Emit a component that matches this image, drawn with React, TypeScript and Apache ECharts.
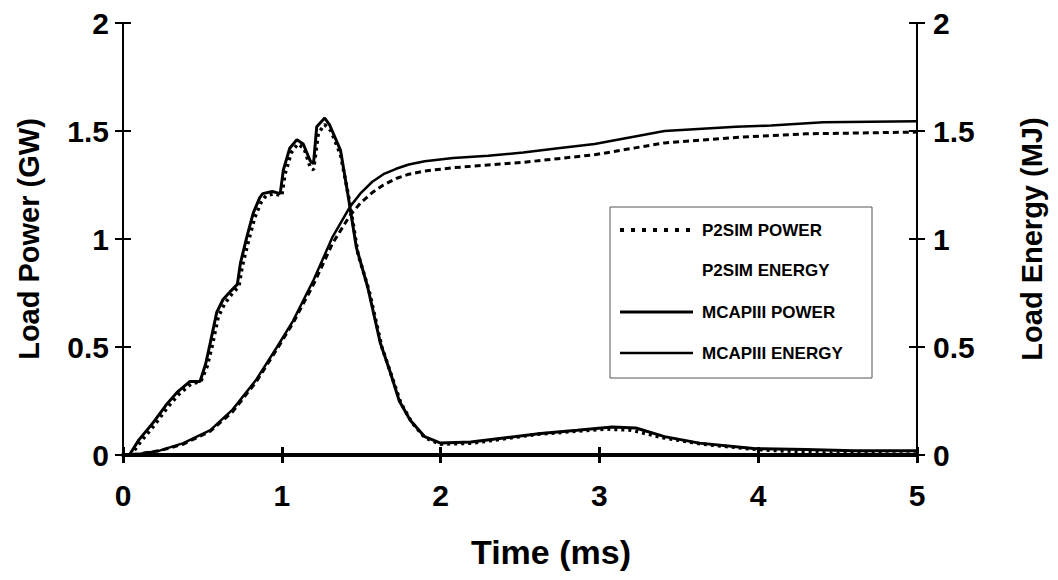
import React, { useEffect, useRef } from "react";
import * as echarts from "echarts";

// Time axis (ms)
const timeTicks = [0, 1, 2, 3, 4, 5];

// MCAPIII load power (GW)
const mcapPowerT = [0, 0.04, 0.1, 0.19, 0.27, 0.34, 0.42, 0.485, 0.52, 0.55, 0.59, 0.63, 0.68, 0.72, 0.74, 0.78, 0.82, 0.86, 0.88, 0.94, 0.99, 1.01, 1.05, 1.095, 1.135, 1.18, 1.2, 1.22, 1.27, 1.3, 1.37, 1.42, 1.47, 1.54, 1.62, 1.68, 1.74, 1.81, 1.9, 2.0, 2.19, 2.41, 2.63, 2.86, 3.08, 3.23, 3.41, 3.63, 3.97, 4.3, 4.6, 5.0];
const mcapPowerV = [0, 0, 0.07, 0.15, 0.23, 0.29, 0.34, 0.34, 0.42, 0.52, 0.66, 0.72, 0.76, 0.79, 0.89, 1.01, 1.12, 1.19, 1.21, 1.22, 1.21, 1.32, 1.42, 1.46, 1.44, 1.36, 1.35, 1.52, 1.56, 1.53, 1.41, 1.19, 0.96, 0.78, 0.52, 0.39, 0.25, 0.16, 0.085, 0.055, 0.06, 0.08, 0.1, 0.115, 0.13, 0.125, 0.085, 0.055, 0.03, 0.025, 0.02, 0.02];

// P2SIM load power (GW)
const p2simPowerT = [0, 0.05, 0.11, 0.2, 0.28, 0.35, 0.43, 0.49, 0.53, 0.56, 0.6, 0.64, 0.69, 0.73, 0.75, 0.79, 0.83, 0.87, 0.9, 0.95, 1.0, 1.02, 1.06, 1.1, 1.14, 1.18, 1.2, 1.23, 1.27, 1.31, 1.37, 1.43, 1.48, 1.55, 1.63, 1.69, 1.75, 1.82, 1.9, 2.0, 2.2, 2.4, 2.6, 2.85, 3.05, 3.2, 3.4, 3.65, 4.0, 4.4, 4.8, 5.0];
const p2simPowerV = [0, 0, 0.06, 0.14, 0.22, 0.28, 0.33, 0.34, 0.41, 0.5, 0.64, 0.7, 0.75, 0.78, 0.87, 0.99, 1.1, 1.17, 1.2, 1.21, 1.2, 1.3, 1.4, 1.44, 1.42, 1.33, 1.32, 1.49, 1.53, 1.5, 1.39, 1.16, 0.93, 0.76, 0.5, 0.37, 0.24, 0.15, 0.08, 0.05, 0.055, 0.075, 0.095, 0.11, 0.12, 0.115, 0.08, 0.05, 0.025, 0.01, 0.005, 0.005];

// MCAPIII load energy (MJ)
const mcapEnergyT = [0, 0.1, 0.23, 0.38, 0.55, 0.69, 0.84, 0.97, 1.07, 1.2, 1.32, 1.43, 1.5, 1.57, 1.64, 1.72, 1.8, 1.9, 2.08, 2.3, 2.52, 2.74, 2.97, 3.19, 3.41, 3.86, 4.08, 4.41, 5.0];
const mcapEnergyV = [0, 0.005, 0.02, 0.055, 0.115, 0.21, 0.35, 0.5, 0.62, 0.81, 1.01, 1.15, 1.215, 1.265, 1.3, 1.325, 1.345, 1.36, 1.375, 1.385, 1.4, 1.42, 1.44, 1.47, 1.5, 1.52, 1.525, 1.54, 1.545];

// P2SIM load energy (MJ)
const p2simEnergyT = [0, 0.1, 0.23, 0.38, 0.55, 0.69, 0.84, 0.97, 1.07, 1.2, 1.32, 1.43, 1.5, 1.57, 1.64, 1.72, 1.8, 1.9, 2.08, 2.52, 2.97, 3.41, 3.86, 4.3, 5.0];
const p2simEnergyV = [0, 0.005, 0.02, 0.05, 0.11, 0.2, 0.34, 0.49, 0.61, 0.79, 0.98, 1.11, 1.17, 1.215, 1.25, 1.28, 1.3, 1.315, 1.33, 1.355, 1.39, 1.445, 1.47, 1.487, 1.495];

const legendNames = ["P2SIM POWER", "P2SIM ENERGY", "MCAPIII POWER", "MCAPIII ENERGY"];

const zip = (t: number[], v: number[]) => t.map((x, i) => [x, v[i]]);

const FONT = "'Liberation Sans', Arial, Helvetica, sans-serif";

export default function App() {
  const ref = useRef<HTMLDivElement>(null);
  useEffect(() => {
    if (!ref.current) return;
    const chart = echarts.init(ref.current, null, { renderer: "svg" });
    const tickLabel = { color: "#000", fontSize: 30, fontWeight: "bold" as const, fontFamily: FONT };
    const nameStyle = { color: "#000", fontSize: 29, fontWeight: "bold" as const, fontFamily: FONT };
    const yBase = {
      type: "value" as const,
      min: 0,
      max: 2,
      interval: 0.5,
      splitLine: { show: false },
    };
    const lx = 620, lx2 = 693, tx = 702;
    const rows = [230, 270, 312, 353];
    chart.setOption({
      animation: false,
      backgroundColor: "#fff",
      grid: { left: 123, right: 141, top: 23, bottom: 125, outerBoundsMode: "none" },
      xAxis: [
        {
          type: "value",
          min: timeTicks[0],
          max: timeTicks[timeTicks.length - 1],
          interval: 1,
          splitLine: { show: false },
          axisLine: { show: true, onZero: false, lineStyle: { color: "#000", width: 4 } },
          axisTick: { show: true, inside: false, length: 8, lineStyle: { color: "#000", width: 3 } },
          axisLabel: { ...tickLabel, margin: 25 },
          name: "Time (ms)",
          nameLocation: "middle",
          nameGap: 80,
          nameTextStyle: { ...nameStyle, fontSize: 34, padding: [0, 0, 0, 62] },
        },
        {
          type: "value",
          min: 0,
          max: 5,
          interval: 1,
          position: "bottom",
          splitLine: { show: false },
          axisLine: { show: false, onZero: false },
          axisTick: { show: true, inside: true, length: 8, lineStyle: { color: "#000", width: 3 } },
          axisLabel: { show: false },
        },
      ],
      yAxis: [
        {
          ...yBase,
          position: "left",
          axisLine: { show: true, onZero: false, lineStyle: { color: "#000", width: 2 } },
          axisTick: { show: true, length: 8, lineStyle: { color: "#000", width: 2 } },
          axisLabel: { ...tickLabel, margin: 14 },
          name: "Load Power (GW)",
          nameLocation: "middle",
          nameRotate: 90,
          nameGap: 80,
          nameTextStyle: nameStyle,
        },
        {
          ...yBase,
          position: "right",
          axisLine: { show: true, onZero: false, lineStyle: { color: "#000", width: 2 } },
          axisTick: { show: true, length: 8, lineStyle: { color: "#000", width: 2 } },
          axisLabel: { ...tickLabel, margin: 16 },
          name: "Load Energy (MJ)",
          nameLocation: "middle",
          nameRotate: 90,
          nameGap: 100,
          nameTextStyle: nameStyle,
        },
        {
          ...yBase,
          position: "left",
          axisLine: { show: false, onZero: false },
          axisTick: { show: true, inside: true, length: 8, lineStyle: { color: "#000", width: 2 } },
          axisLabel: { show: false },
        },
        {
          ...yBase,
          position: "right",
          axisLine: { show: false, onZero: false },
          axisTick: { show: true, inside: true, length: 8, lineStyle: { color: "#000", width: 2 } },
          axisLabel: { show: false },
        },
      ],
      series: [
        {
          name: "P2SIM POWER",
          type: "line",
          yAxisIndex: 0,
          data: zip(p2simPowerT, p2simPowerV),
          showSymbol: false,
          lineStyle: { color: "#000", width: 3.5, type: [3, 4] },
        },
        {
          name: "P2SIM ENERGY",
          type: "line",
          yAxisIndex: 1,
          data: zip(p2simEnergyT, p2simEnergyV),
          showSymbol: false,
          lineStyle: { color: "#000", width: 3, type: [6, 4] },
        },
        {
          name: "MCAPIII POWER",
          type: "line",
          yAxisIndex: 0,
          data: zip(mcapPowerT, mcapPowerV),
          showSymbol: false,
          lineStyle: { color: "#000", width: 3 },
        },
        {
          name: "MCAPIII ENERGY",
          type: "line",
          yAxisIndex: 1,
          data: zip(mcapEnergyT, mcapEnergyV),
          showSymbol: false,
          lineStyle: { color: "#000", width: 2.5 },
        },
      ],
      graphic: [
        {
          type: "rect",
          shape: { x: 610, y: 207, width: 262, height: 171 },
          style: { fill: "#fff", stroke: "#555", lineWidth: 1 },
          z: 10,
        },
        {
          type: "line",
          shape: { x1: lx, y1: rows[0], x2: lx2, y2: rows[0] },
          style: { stroke: "#000", lineWidth: 4, lineDash: [4, 7] },
          z: 11,
        },
        {
          type: "line",
          shape: { x1: lx, y1: rows[2], x2: lx2, y2: rows[2] },
          style: { stroke: "#000", lineWidth: 3 },
          z: 11,
        },
        {
          type: "line",
          shape: { x1: lx, y1: rows[3], x2: lx2, y2: rows[3] },
          style: { stroke: "#000", lineWidth: 2.5 },
          z: 11,
        },
        ...legendNames.map((n, i) => ({
          type: "text",
          x: tx,
          y: rows[i],
          z: 11,
          style: {
            text: n,
            fill: "#000",
            font: `bold 17px ${FONT}`,
            textVerticalAlign: "middle",
            verticalAlign: "middle",
          },
        })),
      ],
    });
    return () => chart.dispose();
  }, []);
  return <div ref={ref} style={{ position: "fixed", left: 0, top: 0, width: 1058, height: 580 }} />;
}
